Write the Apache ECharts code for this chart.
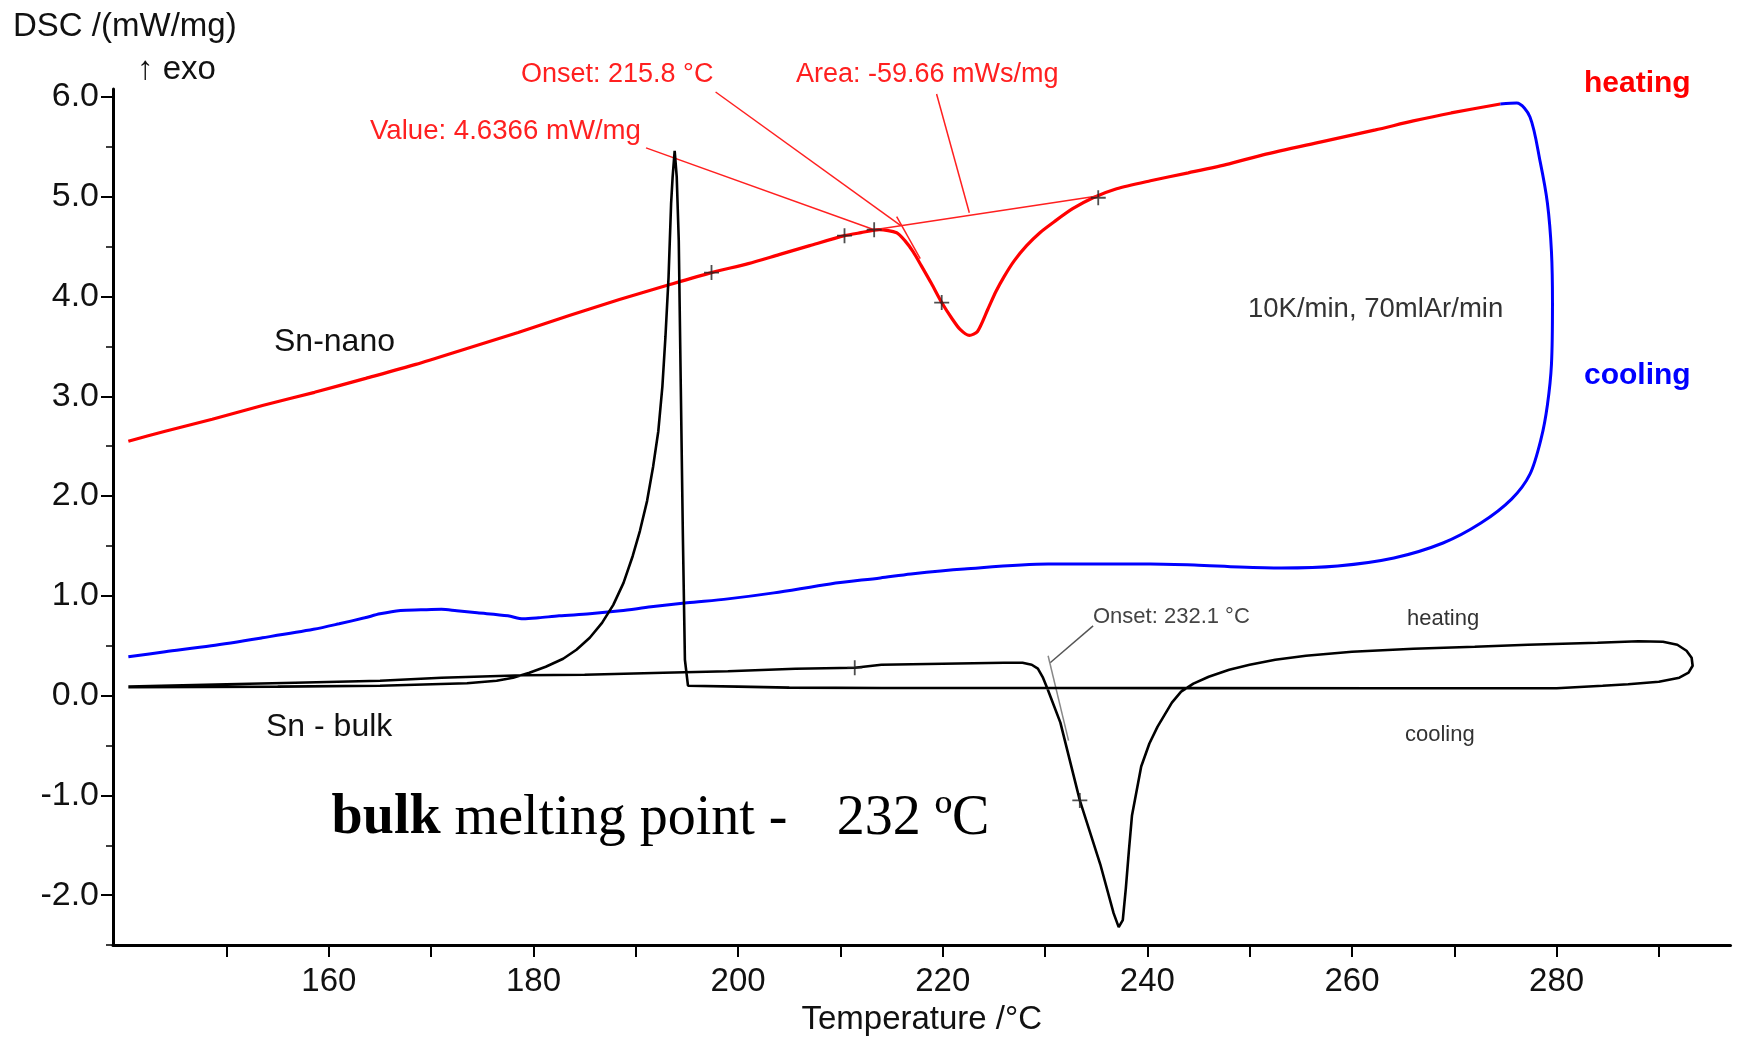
<!DOCTYPE html>
<html>
<head>
<meta charset="utf-8">
<script src="https://cdn.jsdelivr.net/npm/echarts@6/dist/echarts.min.js"></script>
<style>
html,body{margin:0;padding:0;background:#fff;}
#chart{width:1741px;height:1041px;}
</style>
</head>
<body>
<div id="chart"></div>
<script>
// ---- data (temperature °C, DSC mW/mg) ----
const nanoHeatT = [140.4,144,148.6,153.6,158.6,163.6,168.5,173.5,178.5,183.5,188.4,193,197.4,201,204,207,210.4,212,213.8,215.5,216.3,217.1,217.9,218.9,219.9,220.9,221.7,222.6,223.4,224.4,225.2,226.0,227.0,228.2,229.5,230.9,232.7,234.7,237,240.3,244,248,251.3,257,262.3,266,269.7,274.5];
const nanoHeatV = [2.55,2.65,2.77,2.91,3.04,3.18,3.32,3.48,3.64,3.81,3.97,4.11,4.24,4.33,4.42,4.51,4.61,4.64,4.67,4.64,4.56,4.45,4.31,4.13,3.94,3.78,3.67,3.61,3.65,3.87,4.05,4.20,4.36,4.51,4.64,4.75,4.88,4.99,5.08,5.16,5.24,5.33,5.42,5.55,5.67,5.76,5.84,5.93];

const nanoCoolT = [274.5,276.1,277.4,278.4,279.1,279.5,279.6,279.5,279.1,278.5,277.4,275.6,272.6,268.9,264.1,258.6,253.1,249,244.6,240.3,236.8,230.3,222.1,216.9,213.9,209,203.5,199,195,191.5,188.5,185.5,182.5,180.5,179,177.5,174.5,172.5,171,169,167,165,163.5,161,158.5,153.5,148.5,144,140.4];
const nanoCoolV = [5.93,5.94,5.80,5.35,4.94,4.45,3.93,3.32,2.91,2.58,2.22,1.97,1.73,1.53,1.38,1.30,1.28,1.29,1.31,1.32,1.32,1.32,1.27,1.22,1.18,1.12,1.03,0.97,0.93,0.89,0.85,0.82,0.80,0.78,0.77,0.80,0.83,0.85,0.865,0.86,0.854,0.82,0.78,0.72,0.665,0.58,0.50,0.44,0.39];

const bulkT = [140.4,150,156.7,165,171,179,185,192.7,199,205.6,211.4,214,220,226,227.8,228.7,229.3,229.8,230.2,231.5,233.4,235.4,236.7,237.2,237.6,237.9,238.2,238.5,239.4,240.2,241,242.4,243.3,244.5,246,248,250,252.5,255.5,260,266,272,277.2,284,288,290.4,291.8,292.7,293.2,293.3,292.9,292,290,287,284.5,280,262.5,245,230,214,205,200,195.1,194.8,194.6,194.4,194.2,194.0,193.8,193.6,193.45,193.2,192.9,192.6,192.2,191.7,191.1,190.4,189.7,188.8,187.8,186.7,185.5,184.2,182.9,181.2,179.6,178,176.4,173.5,165,155,140.4];
const bulkV = [0.09,0.115,0.13,0.15,0.18,0.205,0.21,0.23,0.245,0.27,0.28,0.31,0.32,0.33,0.33,0.31,0.27,0.18,0.08,-0.27,-1.05,-1.69,-2.18,-2.32,-2.25,-1.93,-1.55,-1.20,-0.71,-0.48,-0.31,-0.07,0.04,0.12,0.19,0.26,0.31,0.36,0.40,0.44,0.47,0.49,0.51,0.53,0.545,0.54,0.51,0.45,0.38,0.30,0.23,0.18,0.14,0.115,0.10,0.074,0.074,0.075,0.076,0.076,0.08,0.09,0.10,0.36,1.61,3.08,4.56,5.2,5.46,5.2,4.93,4.19,3.6,3.1,2.65,2.3,1.95,1.65,1.40,1.13,0.91,0.73,0.58,0.46,0.37,0.29,0.23,0.18,0.15,0.125,0.10,0.09,0.085];

// analysis construction lines
const valueLineT = [191.0, 213.3], valueLineV = [5.49, 4.67];
const onsetLineT = [197.8, 215.9], onsetLineV = [6.05, 4.71];
const areaLineT = [219.4, 222.6], areaLineV = [6.03, 4.84];
const baseLineT = [213.3, 235.3], baseLineV = [4.67, 5.01];
const tangentT = [215.5, 217.8], tangentV = [4.80, 4.38];
const bulkOnsetLineT = [234.7, 230.5], bulkOnsetLineV = [0.70, 0.33];
const bulkTangentT = [230.3, 232.3], bulkTangentV = [0.40, -0.45];

// analysis markers (+)
const markT = [197.4, 210.4, 213.3, 219.9, 235.2, 211.4, 233.4];
const markV = [4.24, 4.61, 4.67, 3.94, 4.99, 0.28, -1.05];

// axes
const xLabelValues = [160, 180, 200, 220, 240, 260, 280];
const xTickValues = [150, 160, 170, 180, 190, 200, 210, 220, 230, 240, 250, 260, 270, 280, 290];
const yLabelValues = [-2, -1, 0, 1, 2, 3, 4, 5, 6];
const yMinorValues = [-2.5, -1.5, -0.5, 0.5, 1.5, 2.5, 3.5, 4.5, 5.5];

const zip = (a, b) => a.map((v, i) => [v, b[i]]);
const SANS = '"Liberation Sans", Arial, sans-serif';
const SERIF = '"Liberation Serif", "Times New Roman", serif';

function txt(text, x, y, font, fill) {
  return { type: 'text', x: x, y: y, z: 100, silent: true,
    style: { text: text, font: font, fill: fill, textAlign: 'left', textVerticalAlign: 'middle', align: 'left', verticalAlign: 'middle' } };
}
function thin(t, v, color, w) {
  return { type: 'line', data: zip(t, v), showSymbol: false, silent: true, animation: false,
    lineStyle: { color: color, width: w }, z: 4 };
}

const chart = echarts.init(document.getElementById('chart'), null, { renderer: 'canvas' });
chart.setOption({
  animation: false,
  backgroundColor: '#ffffff',
  grid: { left: 113, right: 10.5, top: 89, bottom: 90.8, containLabel: false },
  xAxis: {
    type: 'value', min: 138.9, max: 297,
    name: 'Temperature /°C', nameLocation: 'middle', nameGap: 53,
    nameTextStyle: { fontFamily: SANS, fontSize: 33, color: '#111' },
    axisLine: { show: true, onZero: false, lineStyle: { color: '#000', width: 3 } },
    axisTick: { show: true, customValues: xTickValues, length: 12, lineStyle: { color: '#000', width: 2 } },
    axisLabel: { customValues: xLabelValues, fontFamily: SANS, fontSize: 33, color: '#111', margin: 20 },
    splitLine: { show: false }
  },
  yAxis: [{
    type: 'value', min: -2.5, max: 6.08, position: 'left',
    axisLine: { show: true, onZero: false, lineStyle: { color: '#000', width: 3 } },
    axisTick: { show: true, customValues: yLabelValues, length: 12, lineStyle: { color: '#000', width: 2 } },
    axisLabel: { customValues: yLabelValues, formatter: v => Number(v).toFixed(1), fontFamily: SANS, fontSize: 34, color: '#111', margin: 14 },
    splitLine: { show: false }
  }, {
    type: 'value', min: -2.5, max: 6.08, position: 'left', offset: 0,
    axisLine: { show: false },
    axisTick: { show: true, customValues: yMinorValues, length: 7, lineStyle: { color: '#000', width: 1.5 } },
    axisLabel: { show: false },
    splitLine: { show: false }
  }],
  series: [
    { name: 'Sn-nano heating', type: 'line', data: zip(nanoHeatT, nanoHeatV), showSymbol: false, smooth: 0.25,
      lineStyle: { color: '#ff0000', width: 3.2 }, z: 3 },
    { name: 'Sn-nano cooling', type: 'line', data: zip(nanoCoolT, nanoCoolV), showSymbol: false, smooth: 0.3,
      lineStyle: { color: '#0000ff', width: 3 }, z: 3 },
    { name: 'Sn-bulk', type: 'line', data: zip(bulkT, bulkV), showSymbol: false, smooth: false,
      lineStyle: { color: '#000000', width: 2.6 }, z: 5 },
    thin(valueLineT, valueLineV, '#ff2020', 1.5),
    thin(onsetLineT, onsetLineV, '#ff2020', 1.5),
    thin(areaLineT, areaLineV, '#ff2020', 1.5),
    thin(baseLineT, baseLineV, '#ff2020', 1.5),
    thin(tangentT, tangentV, '#ff2020', 1.5),
    thin(bulkOnsetLineT, bulkOnsetLineV, '#555555', 1.5),
    thin(bulkTangentT, bulkTangentV, '#888888', 1.5),
    { name: 'markers', type: 'scatter', data: zip(markT, markV), silent: true,
      symbol: 'path://M4.4,0H5.6V4.4H10V5.6H5.6V10H4.4V5.6H0V4.4H4.4Z', symbolSize: 15,
      itemStyle: { color: '#222' }, z: 6 }
  ],
  graphic: [
    txt('DSC /(mW/mg)', 13, 27, '33px ' + SANS, '#111'),
    txt('↑ exo', 137, 70, '33px ' + SANS, '#111'),
    txt('Onset: 215.8 °C', 521, 75, '27px ' + SANS, '#ff2020'),
    txt('Area: -59.66 mWs/mg', 796, 75, '27px ' + SANS, '#ff2020'),
    txt('Value: 4.6366 mW/mg', 370, 131, '27.6px ' + SANS, '#ff2020'),
    txt('heating', 1584, 84, 'bold 30px ' + SANS, '#ff0000'),
    txt('cooling', 1584, 376, 'bold 30px ' + SANS, '#0000ff'),
    txt('10K/min, 70mlAr/min', 1248, 309, '27.5px ' + SANS, '#333'),
    txt('Sn-nano', 274, 342, '32px ' + SANS, '#111'),
    txt('Sn - bulk', 266, 727, '32px ' + SANS, '#111'),
    txt('Onset: 232.1 °C', 1093, 617, '22px ' + SANS, '#444'),
    txt('heating', 1407, 619, '22px ' + SANS, '#333'),
    txt('cooling', 1405, 735, '22px ' + SANS, '#333'),
    txt('bulk', 331.6, 819, 'bold 56px ' + SERIF, '#000'),
    txt(' melting point -', 440.6, 819, '56px ' + SERIF, '#000'),
    txt('232 ºC', 836.7, 819, '56px ' + SERIF, '#000')
  ]
});
</script>
</body>
</html>
